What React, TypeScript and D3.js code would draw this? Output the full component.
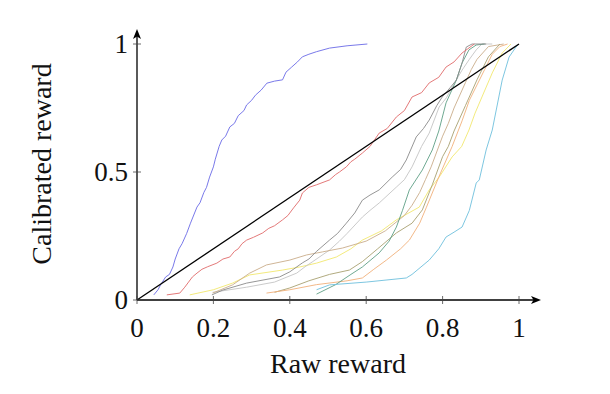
import React from 'react'
import * as d3 from 'd3'

type Pt = [number, number]

// series, [raw, calibrated]
const blueSeries: Pt[] = [[0.044,0.02],[0.055,0.04],[0.062,0.06],[0.075,0.09],[0.085,0.1],[0.094,0.129],[0.1,0.16],[0.11,0.2],[0.118,0.22],[0.13,0.26],[0.14,0.3],[0.157,0.363],[0.165,0.38],[0.175,0.42],[0.182,0.44],[0.19,0.48],[0.2,0.52],[0.205,0.55],[0.215,0.6],[0.222,0.625],[0.232,0.64],[0.243,0.676],[0.255,0.69],[0.265,0.72],[0.28,0.74],[0.287,0.762],[0.3,0.78],[0.31,0.8],[0.325,0.82],[0.34,0.847],[0.36,0.855],[0.381,0.86],[0.39,0.89],[0.405,0.91],[0.42,0.93],[0.433,0.95],[0.45,0.96],[0.47,0.97],[0.504,0.984],[0.55,0.993],[0.603,1.0]]
const redSeries: Pt[] = [[0.078,0.02],[0.112,0.027],[0.125,0.05],[0.135,0.07],[0.145,0.09],[0.157,0.105],[0.17,0.12],[0.185,0.13],[0.209,0.144],[0.225,0.16],[0.243,0.168],[0.255,0.19],[0.265,0.2],[0.275,0.22],[0.287,0.234],[0.305,0.245],[0.329,0.262],[0.345,0.28],[0.36,0.29],[0.381,0.313],[0.395,0.33],[0.41,0.36],[0.426,0.39],[0.433,0.418],[0.45,0.44],[0.47,0.45],[0.504,0.469],[0.52,0.49],[0.53,0.5],[0.548,0.52],[0.56,0.54],[0.57,0.55],[0.59,0.574],[0.61,0.6],[0.634,0.652],[0.655,0.67],[0.679,0.715],[0.7,0.74],[0.72,0.793],[0.745,0.81],[0.765,0.848],[0.79,0.87],[0.809,0.91],[0.83,0.93],[0.851,0.965],[0.865,0.98],[0.883,1.0]]
const darkGraySeries: Pt[] = [[0.196,0.02],[0.225,0.039],[0.287,0.066],[0.373,0.09],[0.4,0.11],[0.433,0.145],[0.45,0.16],[0.47,0.19],[0.504,0.234],[0.525,0.26],[0.548,0.3],[0.57,0.34],[0.59,0.39],[0.61,0.41],[0.634,0.43],[0.668,0.48],[0.69,0.51],[0.705,0.547],[0.731,0.637],[0.75,0.67],[0.765,0.703],[0.785,0.76],[0.799,0.793],[0.82,0.83],[0.836,0.859],[0.851,0.926],[0.862,0.988],[0.877,1.0],[0.914,1.0]]
const lightGraySeries: Pt[] = [[0.198,0.03],[0.287,0.05],[0.36,0.07],[0.418,0.105],[0.44,0.13],[0.46,0.15],[0.504,0.195],[0.53,0.23],[0.55,0.26],[0.59,0.324],[0.61,0.35],[0.634,0.379],[0.679,0.441],[0.7,0.47],[0.72,0.52],[0.745,0.6],[0.765,0.652],[0.791,0.754],[0.81,0.79],[0.825,0.832],[0.851,0.898],[0.87,0.94],[0.888,0.977],[0.903,1.0],[0.93,1.0]]
const tanSeries: Pt[] = [[0.198,0.027],[0.25,0.059],[0.295,0.105],[0.339,0.137],[0.4,0.156],[0.444,0.176],[0.486,0.188],[0.538,0.203],[0.6,0.23],[0.65,0.27],[0.7,0.33],[0.72,0.37],[0.74,0.42],[0.755,0.47],[0.77,0.52],[0.8,0.64],[0.815,0.69],[0.83,0.75],[0.86,0.85],[0.875,0.9],[0.89,0.94],[0.92,0.99],[0.96,1.0]]
const yellowSeries: Pt[] = [[0.138,0.02],[0.2,0.04],[0.25,0.066],[0.295,0.098],[0.381,0.117],[0.426,0.129],[0.47,0.144],[0.522,0.168],[0.56,0.2],[0.59,0.234],[0.64,0.27],[0.679,0.313],[0.739,0.363],[0.765,0.43],[0.791,0.48],[0.825,0.559],[0.85,0.6],[0.869,0.664],[0.885,0.73],[0.903,0.793],[0.93,0.887],[0.956,0.965],[0.979,1.0]]
const oliveSeries: Pt[] = [[0.36,0.03],[0.4,0.047],[0.45,0.075],[0.504,0.1],[0.556,0.117],[0.59,0.15],[0.63,0.2],[0.679,0.262],[0.72,0.3],[0.747,0.352],[0.773,0.45],[0.8,0.56],[0.815,0.6],[0.83,0.66],[0.86,0.76],[0.89,0.86],[0.92,0.95],[0.95,1.0]]
const tealSeries: Pt[] = [[0.47,0.023],[0.52,0.06],[0.56,0.1],[0.59,0.129],[0.634,0.184],[0.66,0.23],[0.679,0.285],[0.695,0.35],[0.713,0.43],[0.747,0.508],[0.773,0.586],[0.79,0.66],[0.809,0.77],[0.836,0.859],[0.851,0.926],[0.869,0.977],[0.888,0.996],[0.91,1.0]]
const orangeSeries: Pt[] = [[0.339,0.027],[0.4,0.04],[0.47,0.06],[0.55,0.075],[0.59,0.086],[0.62,0.12],[0.653,0.156],[0.69,0.2],[0.713,0.234],[0.74,0.3],[0.757,0.36],[0.79,0.48],[0.825,0.6],[0.851,0.7],[0.87,0.78],[0.89,0.84],[0.91,0.9],[0.93,0.96],[0.95,0.99],[0.97,1.0]]
const cyanSeries: Pt[] = [[0.47,0.04],[0.504,0.059],[0.6,0.07],[0.705,0.086],[0.72,0.1],[0.765,0.156],[0.79,0.2],[0.809,0.246],[0.83,0.265],[0.851,0.285],[0.87,0.35],[0.888,0.457],[0.896,0.469],[0.914,0.586],[0.93,0.664],[0.956,0.859],[0.974,0.949],[0.992,0.988],[1.0,1.0]]
const diagonal: Pt[] = [[0, 0], [1, 1]]

const xTicks = [0, 0.2, 0.4, 0.6, 0.8, 1]
const yTicks = [0, 0.5, 1]

const seriesList = [
  { data: yellowSeries, color: '#f2e86e' },
  { data: lightGraySeries, color: '#c4c4c4' },
  { data: tanSeries, color: '#c9ad8a' },
  { data: oliveSeries, color: '#a8a070' },
  { data: orangeSeries, color: '#f0b07a' },
  { data: tealSeries, color: '#5f9f86' },
  { data: cyanSeries, color: '#6ec0dc' },
  { data: darkGraySeries, color: '#8a8a8a' },
  { data: redSeries, color: '#e06a6a' },
  { data: blueSeries, color: '#6a6ae6' },
]

export default function App() {
  const width = 610
  const height = 394
  const x = d3.scaleLinear().domain([0, 1]).range([137, 519])
  const y = d3.scaleLinear().domain([0, 1]).range([300, 44])
  const line = d3.line<Pt>().x(d => x(d[0])).y(d => y(d[1]))
  const font = '"Liberation Serif", "DejaVu Serif", serif'
  const fmt = d3.format('~g')

  return (
    <svg width={width} height={height} style={{ position: 'absolute', left: 0, top: 0, background: '#fff' }}>
      <rect width={width} height={height} fill="#fff" />
      {seriesList.map((s, i) => (
        <path key={i} d={line(s.data) || ''} fill="none" stroke={s.color} strokeWidth={0.9} strokeLinejoin="round" />
      ))}
      <path d={line(diagonal) || ''} fill="none" stroke="#000" strokeWidth={1.3} />

      {/* axes */}
      <line x1={x(0)} y1={y(0)} x2={536} y2={y(0)} stroke="#000" strokeWidth={1.3} />
      <path d={`M541,${y(0)} L531,${y(0) - 4} L533.5,${y(0)} L531,${y(0) + 4} Z`} fill="#000" />
      <line x1={x(0)} y1={y(0)} x2={x(0)} y2={34} stroke="#000" strokeWidth={1.3} />
      <path d={`M${x(0)},29 L${x(0) - 4},39 L${x(0)},36.5 L${x(0) + 4},39 Z`} fill="#000" />

      {xTicks.map(t => (
        <g key={'x' + t}>
          <line x1={x(t)} x2={x(t)} y1={y(0) - 4} y2={y(0) + 4} stroke="#444" strokeWidth={0.8} />
          <text x={x(t)} y={y(0) + 37} textAnchor="middle" fontFamily={font} fontSize={27} fill="#111">{fmt(t)}</text>
        </g>
      ))}
      {yTicks.map(t => (
        <g key={'y' + t}>
          <line x1={x(0) - 4} x2={x(0) + 4} y1={y(t)} y2={y(t)} stroke="#444" strokeWidth={0.8} />
          <text x={x(0) - 9} y={y(t) + 9} textAnchor="end" fontFamily={font} fontSize={27} fill="#111">{fmt(t)}</text>
        </g>
      ))}

      <text x={338} y={373} textAnchor="middle" fontFamily={font} fontSize={28} fill="#111">Raw reward</text>
      <text transform={`translate(51,${y(0.5) - 8}) rotate(-90)`} textAnchor="middle" fontFamily={font} fontSize={28} fill="#111">Calibrated reward</text>
    </svg>
  )
}
